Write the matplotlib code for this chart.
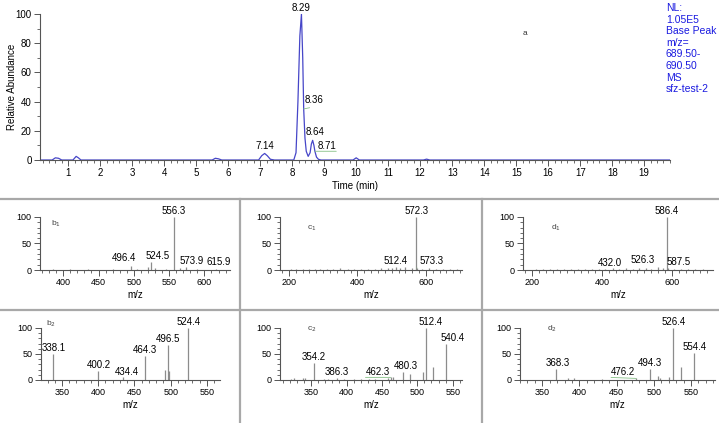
import matplotlib
matplotlib.use("Agg")
import matplotlib.pyplot as plt
from matplotlib.ticker import MultipleLocator
from matplotlib.lines import Line2D

plt.rcParams['font.family'] = ['Liberation Sans', 'DejaVu Sans']

# chromatogram (time in min, relative abundance)
chrom_t = [0.12, 0.5, 0.6, 0.7, 0.8, 1.15, 1.25, 1.32, 1.4, 5.5, 5.6, 5.7, 5.8,
           6.95, 7.05, 7.14, 7.22, 7.32, 7.45, 8.05, 8.12, 8.18, 8.24, 8.29, 8.33,
           8.36, 8.40, 8.44, 8.50, 8.56, 8.60, 8.64, 8.68, 8.71, 8.76, 8.82, 8.9,
           9.9, 10.0, 10.1, 12.1, 12.2, 12.3, 19.8]
chrom_i = [0, 0, 1.5, 1.2, 0, 0, 2.5, 1.5, 0, 0, 1.2, 0.8, 0,
           0, 3, 4.5, 3, 0.5, 0, 0, 5, 40, 85, 100, 70,
           35, 15, 6, 2.5, 5, 11, 13.5, 10, 6, 2, 0.5, 0,
           0, 1.5, 0, 0, 0.6, 0, 0]
chrom_labels = ["7.14", "8.29", "8.36", "8.64", "8.71"]
chrom_label_t = [7.14, 8.29, 8.36, 8.64, 8.71]
chrom_label_i = [4.5, 100, 35, 13.5, 6]
info_text = "NL:\n1.05E5\nBase Peak\nm/z=\n689.50-\n690.50\nMS\nsfz-test-2"

# spectra: m/z and relative abundance
b1_mz = [385, 410, 435, 470, 496.4, 505, 520, 524.5, 530, 545, 556.3, 565, 573.9, 590, 615.9]
b1_int = [1, 1, 2, 1, 8, 2, 5, 15, 3, 2, 100, 3, 5, 1, 2]
b1_lab = ["496.4", "524.5", "556.3", "573.9", "615.9"]

c1_mz = [205, 222, 240, 258, 275, 290, 310, 330, 350, 372, 390, 410, 430, 452, 470,
         488, 500, 512.4, 525, 540, 558, 572.3, 573.3, 590, 610, 630, 650, 670, 690]
c1_int = [1, 2, 1, 2, 1, 2, 1, 2, 3, 1, 2, 1, 2, 2, 3,
          4, 3, 5, 4, 6, 3, 100, 4, 2, 3, 1, 2, 1, 1]
c1_lab = ["512.4", "572.3", "573.3"]

d1_mz = [210, 230, 250, 270, 290, 310, 330, 350, 372, 390, 410, 432.0, 450, 470,
         490, 505, 526.3, 540, 560, 575, 586.4, 587.5, 605, 625, 645, 665, 690]
d1_int = [1, 1, 2, 1, 1, 2, 1, 1, 2, 1, 2, 3, 2, 3,
          2, 3, 4, 2, 5, 3, 100, 3, 2, 1, 2, 1, 1]
d1_lab = ["432.0", "526.3", "586.4", "587.5"]

b2_mz = [338.1, 400.2, 434.4, 464.3, 492.3, 496.5, 497.6, 524.4]
b2_int = [50, 17, 5, 47, 20, 68, 18, 100]
b2_lab = ["338.1", "400.2", "434.4", "464.3", "496.5", "524.4"]

c2_mz = [322, 326, 338, 342, 354.2, 368, 374, 386.3, 396, 410, 420, 432, 440,
         458, 462.3, 465, 480.3, 490, 508, 512.4, 522, 540.4]
c2_int = [2, 3, 4, 3, 32, 2, 2, 3, 2, 1, 2, 2, 1,
          4, 5, 5, 16, 11, 15, 100, 25, 70]
c2_lab = ["354.2", "386.3", "462.3", "480.3", "512.4", "540.4"]

d2_mz = [368.3, 385, 393, 430, 476.2, 494.3, 505, 508, 520, 526.4, 536, 554.4]
d2_int = [22, 3, 3, 1, 3, 21, 7, 4, 6, 100, 24, 52]
d2_lab = ["368.3", "476.2", "494.3", "526.4", "554.4"]

panel_names = ["b", "c", "d", "b", "c", "d"]
panel_subs = ["1", "1", "1", "2", "2", "2"]

# label nudges in pixels (dx, dy) and which labels get a leader line
nudge = [
    {"496.4": (-7, 5), "524.5": (6, 3), "573.9": (6, 3), "615.9": (3, 4)},
    {"573.3": (15, 4)},
    {"432.0": (-3, 2), "526.3": (-3, 5), "587.5": (11, 3)},
    {"434.4": (4, 2)},
    {"462.3": (-13, 2), "480.3": (3, 3), "512.4": (5, 3), "540.4": (7, 3)},
    {"368.3": (2, 3), "476.2": (-13, 3)},
]
leaders = {"573.3": (1, 0), "462.3": (0, 0), "476.2": (0, 0)}
green = "#86c086"

fig = plt.figure(figsize=(7.19, 4.23), dpi=100)

# ---- chromatogram ----
ax = fig.add_axes([0.0556, 0.6217, 0.876, 0.345])
ax.plot(chrom_t, chrom_i, color="#4646c8", lw=0.9)
ax.set_xlim(0.12, 19.8)
ax.set_ylim(0, 100)
ax.xaxis.set_minor_locator(MultipleLocator(0.2))
ax.yaxis.set_major_locator(MultipleLocator(20))
ax.yaxis.set_minor_locator(MultipleLocator(10))
ax.set_xticks(range(1, 20))
for s in ["top", "right"]:
    ax.spines[s].set_visible(False)
for s in ["left", "bottom"]:
    ax.spines[s].set_color("#555555")
    ax.spines[s].set_linewidth(0.8)
ax.tick_params(which="both", labelsize=7, colors="#555555", labelcolor="black")
ax.tick_params(which="major", length=4, width=0.7, pad=2)
ax.tick_params(which="minor", length=2.5, width=0.6)
ax.set_xlabel("Time (min)", fontsize=7, labelpad=2)
ax.set_ylabel("Relative Abundance", fontsize=7)
ax.yaxis.set_label_coords(-0.037, 0.5)

chrom_nudge = {"7.14": (0, 4), "8.29": (0, 3), "8.36": (10, 6), "8.64": (2, 5), "8.71": (12, 2)}
for lab, t, v in zip(chrom_labels, chrom_label_t, chrom_label_i):
    dx, dy = chrom_nudge[lab]
    arrow = None
    if lab in ("8.36", "8.71"):
        arrow = dict(arrowstyle="-", color=green, lw=0.6, relpos=(1, 0), shrinkA=0, shrinkB=0)
    ax.annotate(lab, (t, v), xytext=(dx, dy), textcoords="offset pixels",
                ha="center", va="baseline", fontsize=7, annotation_clip=False,
                arrowprops=arrow)

fig.text(0.926, 0.993, info_text, fontsize=7.5, color="#1a1ae0", va="top", ha="left",
         linespacing=1.2)
fig.text(0.727, 0.918, "a", fontsize=6, color="#333333")

# ---- spectra ----
spectra = [
    (b1_mz, b1_int, b1_lab, (367, 636), 50, 10),
    (c1_mz, c1_int, c1_lab, (174, 705), 200, 20),
    (d1_mz, d1_int, d1_lab, (174, 717), 200, 20),
    (b2_mz, b2_int, b2_lab, (321, 568), 50, 10),
    (c2_mz, c2_int, c2_lab, (306, 563), 50, 10),
    (d2_mz, d2_int, d2_lab, (320, 582), 50, 10),
]
rects = [
    [0.0556, 0.3617, 0.264, 0.1253],
    [0.3894, 0.3617, 0.253, 0.1253],
    [0.7274, 0.3617, 0.264, 0.1253],
    [0.057, 0.1017, 0.249, 0.123],
    [0.3894, 0.1017, 0.253, 0.123],
    [0.7232, 0.1017, 0.271, 0.123],
]
label_pos = [(0.06, 0.84), (0.15, 0.76), (0.15, 0.76), (0.03, 1.04), (0.15, 0.95), (0.14, 0.95)]

for k, (mz, inten, labs, xl, maj, mnr) in enumerate(spectra):
    a = fig.add_axes(rects[k])
    a.vlines(mz, 0, inten, color="#8c8c8c", lw=0.9)
    a.set_xlim(*xl)
    a.set_ylim(0, 100)
    a.xaxis.set_major_locator(MultipleLocator(maj))
    a.xaxis.set_minor_locator(MultipleLocator(mnr))
    a.yaxis.set_major_locator(MultipleLocator(50))
    a.yaxis.set_minor_locator(MultipleLocator(10))
    for s in ["top", "right"]:
        a.spines[s].set_visible(False)
    for s in ["left", "bottom"]:
        a.spines[s].set_color("#555555")
        a.spines[s].set_linewidth(0.8)
    a.tick_params(which="both", labelsize=6.5, colors="#555555", labelcolor="black")
    a.tick_params(which="major", length=4, width=0.7, pad=2)
    a.tick_params(which="minor", length=2.5, width=0.6)
    a.set_xlabel("m/z", fontsize=7, labelpad=2)
    for m, v in zip(mz, inten):
        lab = "%.1f" % m
        if lab not in labs:
            continue
        dx, dy = nudge[k].get(lab, (0, 3))
        arrow = None
        if lab in leaders:
            arrow = dict(arrowstyle="-", color=green, lw=0.6, relpos=leaders[lab],
                         shrinkA=0, shrinkB=0)
        a.annotate(lab, (m, v), xytext=(dx, dy), textcoords="offset pixels",
                   ha="center", va="baseline", fontsize=7, annotation_clip=False,
                   arrowprops=arrow)
    lx, ly = label_pos[k]
    a.text(lx, ly, panel_names[k] + "$_{" + panel_subs[k] + "}$", transform=a.transAxes,
           fontsize=6, color="#444444")

# separators
sep = "#a8a8a8"
fig.add_artist(Line2D([0, 1], [1 - 199 / 423, 1 - 199 / 423], color=sep, lw=1.6))
fig.add_artist(Line2D([0, 1], [1 - 310 / 423, 1 - 310 / 423], color=sep, lw=1.6))
fig.add_artist(Line2D([240 / 719, 240 / 719], [0, 1 - 199 / 423], color=sep, lw=1.6))
fig.add_artist(Line2D([482 / 719, 482 / 719], [0, 1 - 199 / 423], color=sep, lw=1.6))

fig.savefig("out.png", dpi=100)
